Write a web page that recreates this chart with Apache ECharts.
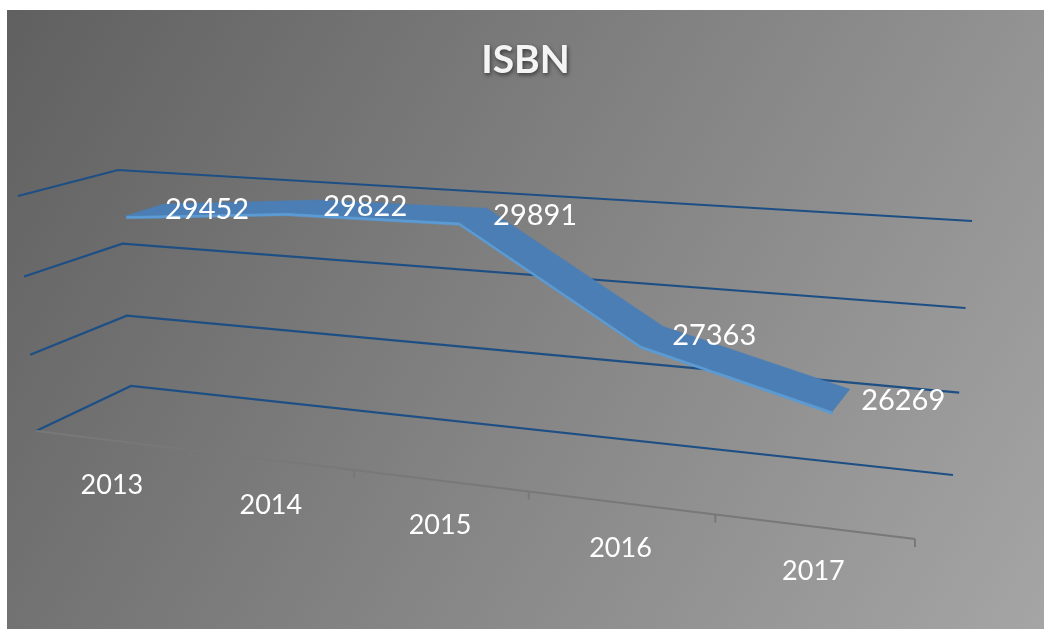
<!DOCTYPE html>
<html>
<head>
<meta charset="utf-8">
<script src="https://cdn.jsdelivr.net/npm/echarts@6.0.0/dist/echarts.min.js"></script>
<style>
  html, body { margin: 0; padding: 0; background: #ffffff; }
  #chart { position: absolute; left: 7px; top: 10px; width: 1037px; height: 619px; }
</style>
</head>
<body>
<div id="chart"></div>
<script>
// ---------------- data ----------------
const titleText = 'ISBN';
const categories = ['2013', '2014', '2015', '2016', '2017'];
const values = [29452, 29822, 29891, 27363, 26269];
const yTicks = [24000, 26000, 28000, 30000];
const yMin = 24000;
const yMax = 30000;
const yInterval = 2000;

// ---------------- 3D look (perspective planes, chart pixel coords) ----------------
// corners in order: bottom-left, bottom-right, top-right, top-left
const backQuad = [[124, 376], [946, 465], [965, 211], [111, 160]];
const frontQuad = [[29, 421], [908, 529], [930, 256], [11, 186]];
const ribbonNear = 0.3, ribbonFar = 0.7;

function homography(q) {
  const x0 = q[0][0], y0 = q[0][1], x1 = q[1][0], y1 = q[1][1];
  const x2 = q[2][0], y2 = q[2][1], x3 = q[3][0], y3 = q[3][1];
  const dx1 = x1 - x2, dx2 = x3 - x2, dx3 = x0 - x1 + x2 - x3;
  const dy1 = y1 - y2, dy2 = y3 - y2, dy3 = y0 - y1 + y2 - y3;
  const den = dx1 * dy2 - dx2 * dy1;
  const g = (dx3 * dy2 - dx2 * dy3) / den;
  const h = (dx1 * dy3 - dx3 * dy1) / den;
  const a = x1 - x0 + g * x1, b = x3 - x0 + h * x3, c = x0;
  const d = y1 - y0 + g * y1, e = y3 - y0 + h * y3, f = y0;
  return function (s, t) {
    const w = g * s + h * t + 1;
    return [(a * s + b * t + c) / w, (d * s + e * t + f) / w];
  };
}
const frontMap = homography(frontQuad);
const backMap = homography(backQuad);
function proj(u, v, depth) {
  const F = frontMap(u, v), B = backMap(u, v);
  return [F[0] + depth * (B[0] - F[0]), F[1] + depth * (B[1] - F[1])];
}
function toUV(cs, pt) {
  return [(pt[0] - cs.x) / cs.width, (cs.y + cs.height - pt[1]) / cs.height];
}

const chart = echarts.init(document.getElementById('chart'), null, { renderer: 'canvas' });

const option = {
  animation: false,
  backgroundColor: {
    type: 'linear', x: 0, y: 0, x2: 1, y2: 1,
    colorStops: [{ offset: 0, color: '#606060' }, { offset: 1, color: '#a5a5a5' }]
  },
  title: {
    text: titleText,
    left: 'center',
    top: 26,
    textStyle: {
      fontFamily: 'Lato', fontWeight: 'bold', fontSize: 39, color: '#f4f4f4',
      textShadowColor: 'rgba(0,0,0,0.55)', textShadowBlur: 4,
      textShadowOffsetX: 1, textShadowOffsetY: 2
    }
  },
  grid: { left: 0, right: 0, top: 0, bottom: 0 },
  xAxis: { type: 'category', data: categories, boundaryGap: true, show: false },
  yAxis: { type: 'value', min: yMin, max: yMax, interval: yInterval, show: false },
  series: [
    {
      // gridlines: left wall + back wall
      type: 'custom', name: 'grid', silent: true, z: 1,
      data: yTicks.map(t => [0, t]),
      renderItem: function (params, api) {
        const cs = params.coordSys;
        const uv = toUV(cs, api.coord([0, api.value(1)]));
        const pts = [proj(0, uv[1], 0), proj(0, uv[1], 1), proj(1, uv[1], 1)];
        return {
          type: 'polyline', shape: { points: pts },
          style: { stroke: '#1d4f85', lineWidth: 2.2, fill: null }
        };
      }
    },
    {
      // category axis on the floor's front edge
      type: 'custom', name: 'axis', silent: true, z: 2,
      data: categories.map((c, i) => [i, yMin]),
      renderItem: function (params, api) {
        const cs = params.coordSys;
        const p = api.coord([api.value(0), api.value(1)]);
        const half = api.size([1, 0])[0] / 2 / cs.width;
        const uv = toUV(cs, p);
        const a = proj(uv[0] - half, uv[1], 0);
        const b = proj(uv[0] + half, uv[1], 0);
        const c = proj(uv[0], uv[1], 0);
        return {
          type: 'group',
          children: [
            { type: 'line', shape: { x1: a[0], y1: a[1], x2: b[0], y2: b[1] },
              style: { stroke: '#787878', lineWidth: 2 } },
            { type: 'line', shape: { x1: b[0], y1: b[1], x2: b[0], y2: b[1] + 8 },
              style: { stroke: '#787878', lineWidth: 2 } },
            { type: 'text', x: c[0], y: c[1] + 45,
              style: { text: categories[params.dataIndex], fill: '#ffffff',
                fontFamily: 'Lato', fontSize: 27, align: 'center', verticalAlign: 'middle' } }
          ]
        };
      }
    },
    {
      // the 3D ribbon line
      type: 'custom', name: 'ISBN', silent: true, z: 3,
      data: values.map((v, i) => [i, v]),
      renderItem: function (params, api) {
        const idx = params.dataIndexInside;
        if (idx >= params.dataInsideLength - 1) return { type: 'group', children: [] };
        const cs = params.coordSys;
        const uv0 = toUV(cs, api.coord([api.value(0), api.value(1)]));
        const uv1 = toUV(cs, api.coord([api.value(0, idx + 1), api.value(1, idx + 1)]));
        const f0 = proj(uv0[0], uv0[1], ribbonNear), f1 = proj(uv1[0], uv1[1], ribbonNear);
        const b0 = proj(uv0[0], uv0[1], ribbonFar), b1 = proj(uv1[0], uv1[1], ribbonFar);
        const th = 3;
        return {
          type: 'group',
          children: [
            { type: 'polygon',
              shape: { points: [f0, f1, [f1[0], f1[1] + th], [f0[0], f0[1] + th]] },
              style: { fill: '#5b9bd5', stroke: '#5b9bd5', lineWidth: 0.5 } },
            { type: 'polygon', shape: { points: [f0, f1, b1, b0] },
              style: { fill: '#4a7eb4', stroke: '#4a7eb4', lineWidth: 0.5 } }
          ]
        };
      }
    },
    {
      // data labels
      type: 'custom', name: 'labels', silent: true, z: 4,
      data: values.map((v, i) => [i, v]),
      renderItem: function (params, api) {
        const cs = params.coordSys;
        const uv = toUV(cs, api.coord([api.value(0), api.value(1)]));
        const m = proj(uv[0], uv[1], 0.5);
        return {
          type: 'text', x: m[0] + 20, y: m[1],
          style: { text: String(api.value(1)), fill: '#ffffff', fontFamily: 'Lato',
            fontSize: 29, align: 'left', verticalAlign: 'middle' }
        };
      }
    }
  ]
};
chart.setOption(option);
</script>
</body>
</html>
